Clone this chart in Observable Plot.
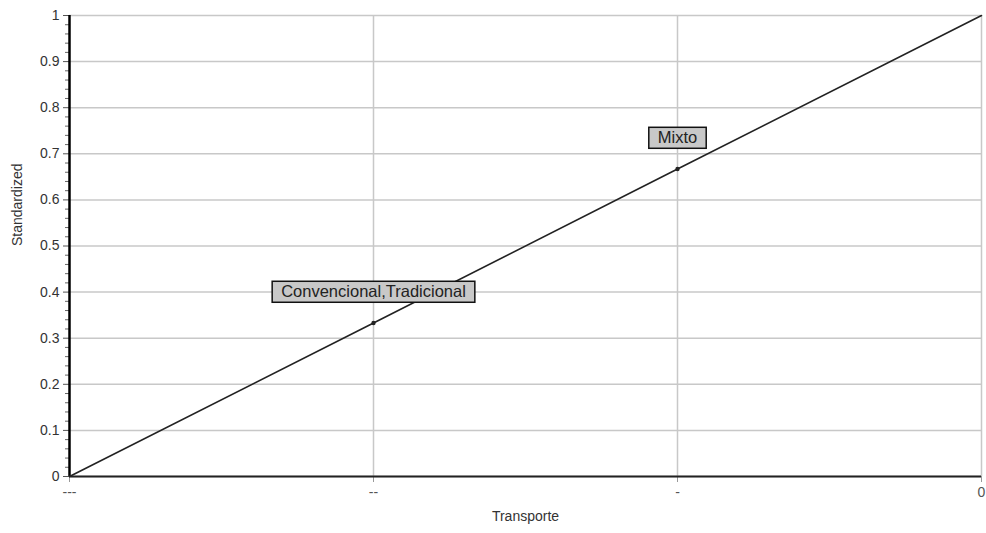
<!DOCTYPE html>
<html>
<head>
<meta charset="utf-8">
<script src="https://cdn.jsdelivr.net/npm/d3@7"></script>
<script src="https://cdn.jsdelivr.net/npm/@observablehq/plot@0.6"></script>
<style>
  html, body { margin: 0; padding: 0; background: #fff; }
  svg { font-family: "Liberation Sans", Arial, sans-serif; }
</style>
</head>
<body>
<script>
const categories = ["---", "--", "-", "0"];
const values = [0, 0.333, 0.667, 1];
const pointLabels = ["", "Convencional,Tradicional", "Mixto", ""];
const yTicks = [0, 0.1, 0.2, 0.3, 0.4, 0.5, 0.6, 0.7, 0.8, 0.9, 1];
const yMinorTicks = [0.02,0.04,0.06,0.08,0.12,0.14,0.16,0.18,0.22,0.24,0.26,0.28,0.32,0.34,0.36,0.38,0.42,0.44,0.46,0.48,0.52,0.54,0.56,0.58,0.62,0.64,0.66,0.68,0.72,0.74,0.76,0.78,0.82,0.84,0.86,0.88,0.92,0.94,0.96,0.98];
const xTitle = "Transporte";
const yTitle = "Standardized";

const data = categories.map((c, i) => ({cat: c, value: values[i], label: pointLabels[i]}));
const labeled = data.filter(d => d.label !== "");

const svg = Plot.plot({
  width: 986,
  height: 533,
  marginLeft: 69,
  marginRight: 5,
  marginTop: 15,
  marginBottom: 57,
  style: {fontFamily: "Liberation Sans, Arial, sans-serif", fontSize: "13px", color: "#333"},
  x: {type: "point", domain: categories, padding: 0},
  y: {domain: [0, 1]},
  marks: [
    Plot.gridY(yTicks, {stroke: "#c8c8c8", strokeOpacity: 1, strokeWidth: 1.5}),
    Plot.gridX(categories.slice(1), {stroke: "#c8c8c8", strokeOpacity: 1, strokeWidth: 1.5}),
    Plot.axisY(yMinorTicks, {tickSize: 4, tickFormat: () => "", label: null, stroke: "#666"}),
    Plot.axisY(yTicks, {tickSize: 6, tickPadding: 4, tickFormat: d => String(+d.toFixed(1)), label: null, fill: "#333", fontSize: 14, stroke: "#555"}),
    Plot.axisX(categories, {tickSize: 6, tickPadding: 5, label: null, fill: "#555", fontSize: 14, stroke: "#999"}),
    Plot.ruleX([categories[0]], {stroke: "#000", strokeWidth: 2.5}),
    Plot.ruleY([0], {stroke: "#222", strokeWidth: 2}),
    Plot.line(data, {x: "cat", y: "value", stroke: "#222", strokeWidth: 1.6}),
    Plot.dot(labeled, {x: "cat", y: "value", r: 2.2, fill: "#222"}),
    Plot.text(labeled, {x: "cat", y: "value", text: "label", dy: -31, fontSize: 16.5, fill: "#222"}),
    Plot.text([xTitle], {frameAnchor: "bottom", dy: 44, fontSize: 14, fill: "#333"}),
    Plot.text([yTitle], {frameAnchor: "left", dx: -52, rotate: -90, fontSize: 14, fill: "#333"})
  ]
});
document.body.append(svg);

// gray label boxes behind the point labels
const textGroups = svg.querySelectorAll('g[aria-label="text"]');
if (textGroups.length) {
  const g = textGroups[0];
  g.querySelectorAll("text").forEach(t => {
    const b = t.getBBox();
    const rect = document.createElementNS("http://www.w3.org/2000/svg", "rect");
    const padX = 9, padY = 2;
    rect.setAttribute("x", b.x - padX);
    rect.setAttribute("y", b.y - padY + 1);
    rect.setAttribute("width", b.width + 2 * padX);
    rect.setAttribute("height", b.height + 2 * padY - 1);
    rect.setAttribute("fill", "#c8c8c8");
    rect.setAttribute("stroke", "#111");
    rect.setAttribute("stroke-width", "1.5");
    const tr = t.getAttribute("transform");
    if (tr) rect.setAttribute("transform", tr);
    g.insertBefore(rect, t);
  });
}
</script>
</body>
</html>
